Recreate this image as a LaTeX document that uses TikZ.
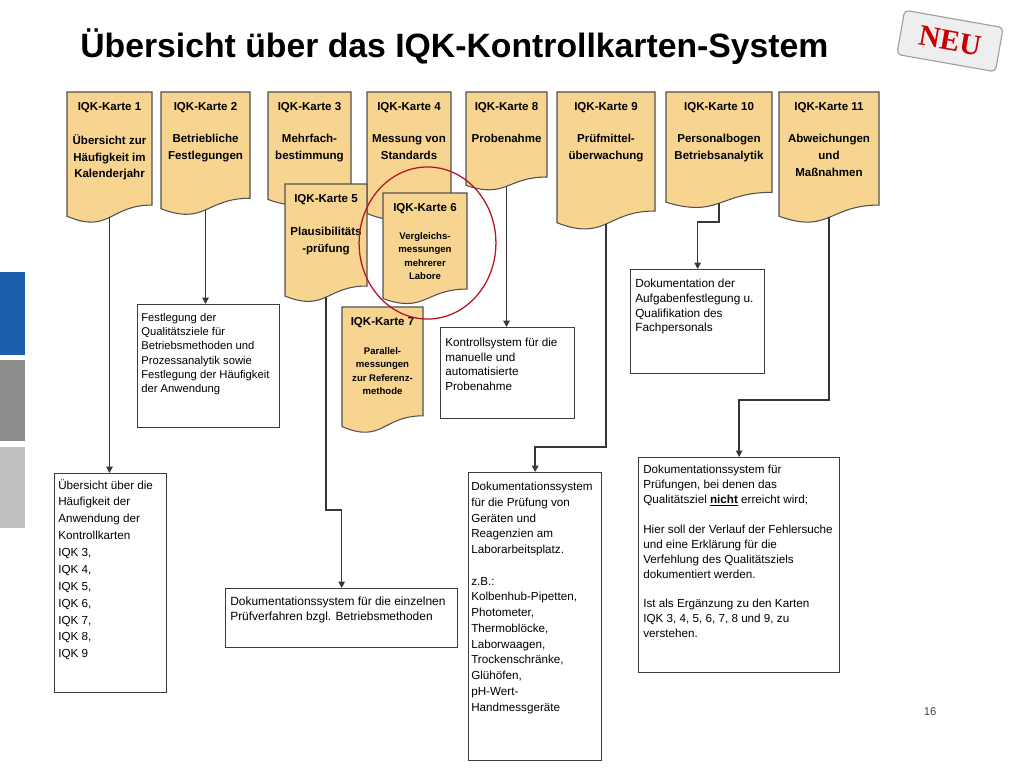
\documentclass[tikz,border=0pt]{standalone}
\usepackage{fontspec}
\setmainfont{Liberation Sans}
\newfontfamily\neufont{Liberation Serif}
\usepackage{xcolor}
\usepackage{tikz}
\usetikzlibrary{calc,positioning,arrows.meta}

\definecolor{cardfill}{RGB}{247,213,145}
\definecolor{cardline}{RGB}{80,80,80}
\definecolor{boxline}{RGB}{60,60,60}
\definecolor{connline}{RGB}{55,55,55}
\definecolor{barblue}{RGB}{28,96,172}
\definecolor{bargray}{RGB}{140,140,140}
\definecolor{barlight}{RGB}{192,192,192}
\definecolor{ringred}{RGB}{180,20,35}
\definecolor{neured}{RGB}{200,0,0}

\begin{document}
\begin{tikzpicture}[x=0.025cm,y=-0.025cm,
  card/.style={fill=cardfill,draw=cardline,line width=0.75pt},
  cardframe/.style={inner sep=0pt,outer sep=0pt},
  cardhead/.style={anchor=north,inner sep=0pt,font=\bfseries\fontsize{8.2}{12}\selectfont},
  cardbody/.style={anchor=north,inner sep=0pt,align=center,font=\bfseries\fontsize{8.2}{12}\selectfont},
  smallbody/.style={anchor=north,inner sep=0pt,align=center,font=\bfseries\fontsize{6.8}{9.6}\selectfont},
  docbox/.style={draw=boxline,fill=white,line width=0.9pt,anchor=north west,inner sep=0pt},
  doctxt/.style={anchor=north west,inner sep=0pt,align=left,font=\fontsize{8.3}{10.3}\selectfont},
  arr/.style={draw=connline,line width=1pt,-{Triangle[length=4.5pt,width=4.5pt]}}]

\useasboundingbox (0,0) rectangle (1024,768);

% side bars
\fill[barblue] (0,272) rectangle (25,355);
\fill[bargray] (0,360) rectangle (25,441);
\fill[barlight] (0,447) rectangle (25,528);

% title + tag
\node[anchor=base west,inner sep=0pt,font=\bfseries\fontsize{24}{28}\selectfont] (title)
  at (80,58) {Übersicht über das IQK-Kontrollkarten-System};
\node[draw=gray!75,fill=gray!13,line width=0.8pt,rounded corners=3pt,rotate=-10,
  minimum width=2.5cm,minimum height=1.12cm,text=neured,
  font=\neufont\bfseries\fontsize{21}{21}\selectfont] (neu) at (950,41) {NEU};

% Cards: (number, left, top, width, height, body offset, style, text)
\foreach \n/\x/\y/\w/\h/\bo/\st/\body in {%
  1/67/92/85/133/42/cardbody/{Übersicht zur\\Häufigkeit im\\Kalenderjahr},%
  2/161/92/89/125/42/cardbody/{Betriebliche\\Festlegungen},%
  3/268/92/83/115/42/cardbody/{Mehrfach-\\bestimmung},%
  4/367/92/84/130/42/cardbody/{Messung von\\Standards},%
  8/466/92/81/100/42/cardbody/{Probenahme},%
  9/557/92/98/140/42/cardbody/{Prüfmittel-\\überwachung},%
  10/666/92/106/118/42/cardbody/{Personalbogen\\Betriebsanalytik},%
  11/779/92/100/133/42/cardbody/{Abweichungen\\und\\Maßnahmen},%
  5/285/184/82/120/43/cardbody/{Plausibilitäts\\-prüfung},%
  6/383/193/84/113/39/smallbody/{Vergleichs-\\messungen\\mehrerer\\Labore},%
  7/342/307/81/128/40/smallbody/{Parallel-\\messungen\\zur Referenz-\\methode}}{%
  \filldraw[card] (\x,\y) -- (\x+\w,\y) -- (\x+\w,\y+0.85*\h)
    .. controls (\x+0.5*\w,\y+0.85*\h) and (\x+0.5*\w,\y+1.07*\h) .. (\x,\y+0.934*\h) -- cycle;
  \node[cardframe,minimum width=\w*0.025cm,minimum height=0.943*\h*0.025cm]
    (k\n) at (\x+0.5*\w,\y+0.4715*\h) {};
  \node[cardhead] (h\n) at (\x+0.5*\w,\y+10) {IQK-Karte \n};
  \node[\st] (b\n) at (\x+0.5*\w,\y+\bo) {\body};
}

% documentation boxes
\node[docbox,minimum width=3.55cm,minimum height=3.075cm] (dA) at (137,304) {};
\node[doctxt,font=\fontsize{8}{10.1}\selectfont] (tA) at (141,313) {Festlegung der\\Qualitätsziele für\\Betriebsmethoden und\\Prozessanalytik sowie\\Festlegung der Häufigkeit\\der Anwendung};

\node[docbox,minimum width=3.35cm,minimum height=2.275cm] (dB) at (440,327) {};
\node[doctxt] (tB) at (445,338) {Kontrollsystem für die\\manuelle und\\automatisierte\\Probenahme};

\node[docbox,minimum width=3.35cm,minimum height=2.6cm] (dC) at (630,269) {};
\node[doctxt,font=\fontsize{8.4}{10.4}\selectfont] (tC) at (635,279) {Dokumentation der\\Aufgabenfestlegung u.\\Qualifikation des\\Fachpersonals};

\node[docbox,minimum width=2.8cm,minimum height=5.475cm] (dD) at (54,473) {};
\node[doctxt,font=\fontsize{8.3}{12}\selectfont] (tD) at (58,479) {Übersicht über die\\Häufigkeit der\\Anwendung der\\Kontrollkarten\\IQK 3,\\IQK 4,\\IQK 5,\\IQK 6,\\IQK 7,\\IQK 8,\\IQK 9};

\node[docbox,minimum width=5.8cm,minimum height=1.475cm] (dE) at (225,588) {};
\node[doctxt,font=\fontsize{8.5}{10}\selectfont] (tE) at (230,597) {Dokumentationssystem für die einzelnen\\Prüfverfahren bzgl. Betriebsmethoden};

\node[docbox,minimum width=3.325cm,minimum height=7.2cm] (dF) at (468,472) {};
\node[doctxt,font=\fontsize{8.3}{11.2}\selectfont] (tF) at (471,482) {Dokumentationssystem\\für die Prüfung von\\Geräten und\\Reagenzien am\\Laborarbeitsplatz.\\[11.2pt]z.B.:\\Kolbenhub-Pipetten,\\Photometer,\\Thermoblöcke,\\Laborwaagen,\\Trockenschränke,\\Glühöfen,\\pH-Wert-\\Handmessgeräte};

\node[docbox,minimum width=5.025cm,minimum height=5.375cm] (dG) at (638,457) {};
\node[doctxt,font=\fontsize{8.3}{10.6}\selectfont] (tG) at (643,465) {Dokumentationssystem für\\Prüfungen, bei denen das\\Qualitätsziel \textbf{\underline{nicht}} erreicht wird;\\[10.6pt]Hier soll der Verlauf der Fehlersuche\\und eine Erklärung für die\\Verfehlung des Qualitätsziels\\dokumentiert werden.\\[10.6pt]Ist als Ergänzung zu den Karten\\IQK 3, 4, 5, 6, 7, 8 und 9, zu\\verstehen.};

% connectors
\draw[arr] (k1.south) -- (k1.south |- dD.north);
\draw[arr] (k2.south) -- (k2.south |- dA.north);
\draw[arr] (k8.south) -- (k8.south |- dB.north);
\draw[arr] (k5.south) -- (k5.south |- 0,510) -| (dE.north);
\draw[arr] (k9.south) -- (k9.south |- 0,447) -| (dF.north);
\draw[arr] (k10.south) -- (k10.south |- 0,222) -| (dC.north);
\draw[arr] (k11.south) -- (k11.south |- 0,400) -| (dG.north);

% highlight round card 6
\draw[ringred,line width=0.9pt] (427.5,243) ellipse [x radius=1.71cm,y radius=1.9cm];

\node[font=\fontsize{8}{10}\selectfont,text=black!75] (page) at (930,712) {16};
\end{tikzpicture}
\end{document}
